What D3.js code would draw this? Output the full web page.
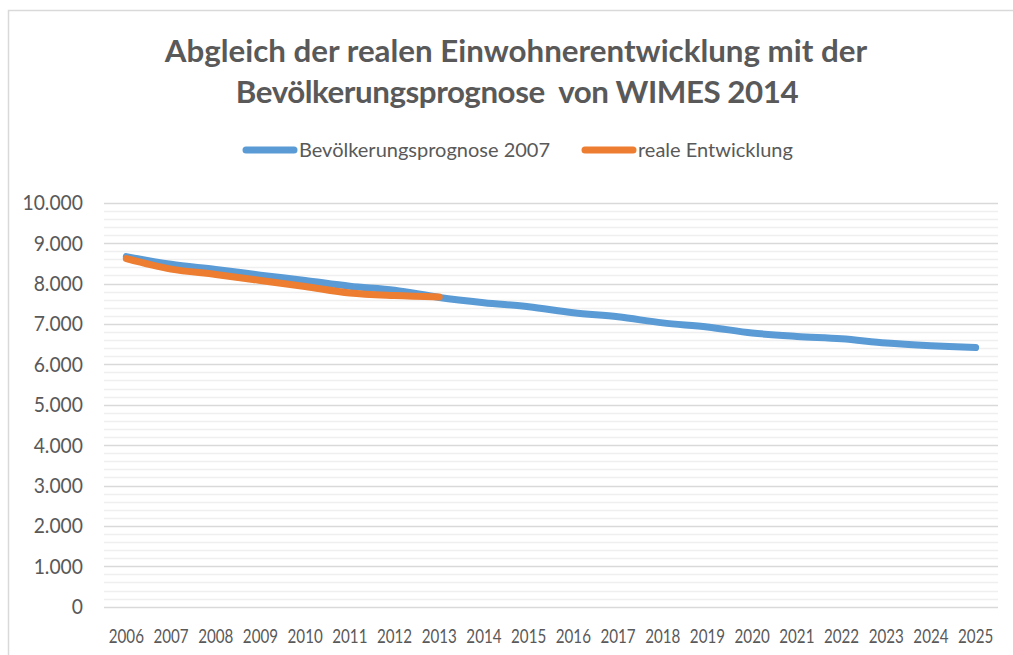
<html>
<head>
    <script src="https://d3js.org/d3.v7.min.js"></script>
    <style>
        body { margin: 0; background: #fff; }
        svg text { fill: #595959; }
        .title { font-family: "Lato"; font-weight: bold; font-size: 31.3px; }
        .legend text { font-family: "Lato"; font-size: 20px; }
        .yaxis text { font-family: "Lato"; font-size: 21px; }
        .xaxis text { font-family: "Lato"; font-size: 18.5px; }
    </style>
</head>
<body>
<div id="chart"></div>
<script>
    // Jahre (Kategorien)
    var years = ["2006", "2007", "2008", "2009", "2010", "2011", "2012", "2013", "2014", "2015",
                 "2016", "2017", "2018", "2019", "2020", "2021", "2022", "2023", "2024", "2025"];
    // Bevölkerungsprognose 2007
    var prognose = [8665, 8475, 8350, 8207, 8075, 7932, 7835, 7655, 7525, 7425,
                    7275, 7175, 7025, 6925, 6775, 6690, 6630, 6525, 6460, 6415];
    // reale Entwicklung (2006 - 2013)
    var real = [8615, 8357, 8225, 8075, 7925, 7765, 7700, 7665];
    var yTicks = [0, 1000, 2000, 3000, 4000, 5000, 6000, 7000, 8000, 9000, 10000];
    var seriesNames = ["Bevölkerungsprognose 2007", "reale Entwicklung"];
    var colors = ["#5b9bd5", "#ed7d31"];

    var width = 1013, height = 655;
    var plotLeft = 104, plotRight = 998, plotTop = 202.7, plotBottom = 606.7;

    var de = d3.formatLocale({decimal: ",", thousands: ".", grouping: [3], currency: ["", "€"]});
    var fmt = de.format(",d");

    var svg = d3.select("#chart").append("svg")
        .attr("width", width)
        .attr("height", height);

    // Rahmen des Diagramms
    svg.append("path")
        .attr("d", "M8.5," + height + "V10.5H" + width)
        .attr("fill", "none")
        .attr("stroke", "#d9d9d9")
        .attr("stroke-width", 1.5);

    var x = d3.scaleBand().domain(years).range([plotLeft, plotRight]);
    var y = d3.scaleLinear().domain([0, 10000]).range([plotBottom, plotTop]);
    var cx = function(yr) { return x(yr) + x.bandwidth() / 2; };

    // Nebengitter
    svg.append("g").selectAll("line")
        .data(d3.range(200, 10000, 200).filter(function(v) { return v % 1000 !== 0; }))
        .enter().append("line")
        .attr("x1", plotLeft).attr("x2", plotRight)
        .attr("y1", function(d) { return Math.round(y(d)) + 0.5; })
        .attr("y2", function(d) { return Math.round(y(d)) + 0.5; })
        .attr("stroke", "#efefef")
        .attr("stroke-width", 1.4);

    // Hauptgitter
    svg.append("g").selectAll("line")
        .data(yTicks)
        .enter().append("line")
        .attr("x1", plotLeft).attr("x2", plotRight)
        .attr("y1", function(d) { return Math.round(y(d)) + 0.5; })
        .attr("y2", function(d) { return Math.round(y(d)) + 0.5; })
        .attr("stroke", "#d9d9d9")
        .attr("stroke-width", 1.5);

    // y-Achse
    svg.append("g").attr("class", "yaxis").selectAll("text")
        .data(yTicks)
        .enter().append("text")
        .attr("transform", function(d) { return "translate(83," + y(d) + ") scale(0.92,1)"; })
        .attr("dy", "0.36em")
        .attr("text-anchor", "end")
        .text(function(d) { return fmt(d); });

    // x-Achse
    svg.append("g").attr("class", "xaxis").selectAll("text")
        .data(years)
        .enter().append("text")
        .attr("transform", function(d) { return "translate(" + cx(d) + ",643) scale(0.82,1)"; })
        .attr("text-anchor", "middle")
        .text(function(d) { return d; });

    var line = d3.line()
        .x(function(d, i) { return cx(years[i]); })
        .y(function(d) { return y(d); })
        .curve(d3.curveCatmullRom.alpha(0.5));

    [prognose, real].forEach(function(s, i) {
        svg.append("path")
            .attr("d", line(s))
            .attr("fill", "none")
            .attr("stroke", colors[i])
            .attr("stroke-width", 7)
            .attr("stroke-linecap", "round")
            .attr("stroke-linejoin", "round");
    });

    // Titel
    var title = svg.append("text")
        .attr("class", "title")
        .attr("text-anchor", "middle");
    title.append("tspan").attr("x", 516).attr("y", 62)
        .text("Abgleich der realen Einwohnerentwicklung mit der");
    title.append("tspan").attr("x", 517).attr("y", 103)
        .attr("letter-spacing", "-0.45px")
        .text("Bevölkerungsprognose\u00a0 von WIMES 2014");

    // Legende
    var legend = svg.append("g").attr("class", "legend");
    var legendX = [246, 585];
    seriesNames.forEach(function(name, i) {
        legend.append("line")
            .attr("x1", legendX[i]).attr("x2", legendX[i] + 48)
            .attr("y1", 150).attr("y2", 150)
            .attr("stroke", colors[i])
            .attr("stroke-width", 7)
            .attr("stroke-linecap", "round");
        legend.append("text")
            .attr("x", legendX[i] + 53)
            .attr("y", 157)
            .text(name);
    });
</script>
</body>
</html>
